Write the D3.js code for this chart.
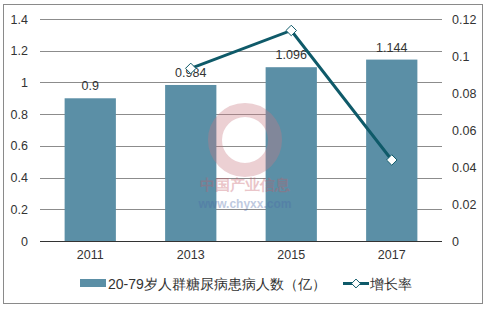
<!DOCTYPE html>
<html><head><meta charset="utf-8">
<script src="https://cdn.jsdelivr.net/npm/d3@7/dist/d3.min.js"></script>
<style>body{margin:0;background:#fff;}text{font-family:"Liberation Sans",Arial,sans-serif;}</style>
</head><body><svg id="c" width="487" height="309"></svg>
<script>
const categories = ["2011","2013","2015","2017"];
const patients = [0.9, 0.984, 1.096, 1.144];
const growth = [null, 0.0933, 0.1138, 0.0438];
const leftTicks = [0,0.2,0.4,0.6,0.8,1,1.2,1.4];
const rightTicks = [0,0.02,0.04,0.06,0.08,0.1,0.12];
const barName = "20-79岁人群糖尿病患病人数（亿）";
const lineName = "增长率";

const svg = d3.select("#c");
const L=40, R=442, T=19, B=241;
const x = d3.scaleBand().domain(categories).range([L,R]).paddingInner(0.49).paddingOuter(0.245);
const y = d3.scaleLinear().domain([0,1.4]).range([B,T]);
const y2 = d3.scaleLinear().domain([0,0.12]).range([B,T]);
const barColor="#5b8fa6", lineColor="#0f5a69";

svg.append("rect").attr("x",3.5).attr("y",4.5).attr("width",479).attr("height",299)
  .attr("fill","none").attr("stroke","#8a8a8a");

svg.append("g").selectAll("line").data(leftTicks.slice(1)).join("line")
  .attr("x1",L).attr("x2",R).attr("y1",d=>Math.round(y(d))+0.5).attr("y2",d=>Math.round(y(d))+0.5)
  .attr("stroke","#8c8c8c");

const gl = svg.append("g").attr("transform",`translate(${L},0)`)
  .call(d3.axisLeft(y).tickValues(leftTicks).tickSize(0).tickPadding(12).tickFormat(d=>String(+d.toFixed(2))));
gl.select(".domain").remove();
gl.selectAll("text").attr("font-size",12.5).attr("fill","#333");

const gr = svg.append("g").attr("transform",`translate(${R},0)`)
  .call(d3.axisRight(y2).tickValues(rightTicks).tickSize(0).tickPadding(10).tickFormat(d=>String(+d.toFixed(2))));
gr.select(".domain").remove();
gr.selectAll("text").attr("font-size",12.5).attr("fill","#333");

svg.append("g").selectAll("rect").data(categories).join("rect")
  .attr("x",d=>x(d)).attr("width",x.bandwidth())
  .attr("y",(d,i)=>y(patients[i])).attr("height",(d,i)=>B-y(patients[i]))
  .attr("fill",barColor);

const wm = svg.append("g").attr("opacity",0.35);
wm.append("circle").attr("cx",245).attr("cy",140).attr("r",30).attr("fill","none").attr("stroke","#c97a84").attr("stroke-width",14);
wm.append("text").attr("x",245).attr("y",190).attr("text-anchor","middle").attr("font-size",15).attr("font-weight","bold")
  .attr("fill","#c45b66").text("中国产业信息");
wm.append("text").attr("x",245).attr("y",208).attr("text-anchor","middle").attr("font-size",12).attr("font-weight","bold")
  .attr("fill","#4a6aa8").text("www.chyxx.com");

svg.append("line").attr("x1",L).attr("x2",R).attr("y1",B+0.5).attr("y2",B+0.5).attr("stroke","#333");
const gx = svg.append("g").attr("transform",`translate(0,${B})`).call(d3.axisBottom(x).tickSize(0).tickPadding(9));
gx.select(".domain").remove();
gx.selectAll("text").attr("font-size",12.5).attr("fill","#333");

svg.append("g").selectAll("text").data(categories).join("text")
  .attr("x",d=>x(d)+x.bandwidth()/2).attr("y",(d,i)=>y(patients[i])-8)
  .attr("text-anchor","middle").attr("font-size",12.5).attr("fill","#333")
  .text((d,i)=>patients[i]);

const pts = categories.map((c,i)=>({c,v:growth[i]})).filter(d=>d.v!==null);
svg.append("path").datum(pts)
  .attr("d",d3.line().x(d=>x(d.c)+x.bandwidth()/2).y(d=>y2(d.v)))
  .attr("fill","none").attr("stroke",lineColor).attr("stroke-width",3);
const diamond = d3.symbol().type(d3.symbolDiamond2).size(70);
svg.append("g").selectAll("path").data(pts).join("path")
  .attr("transform",d=>`translate(${x(d.c)+x.bandwidth()/2},${y2(d.v)})`)
  .attr("d",diamond).attr("fill","#fff").attr("stroke",lineColor).attr("stroke-width",1);

const lg = svg.append("g");
lg.append("rect").attr("x",80).attr("y",279).attr("width",26).attr("height",8).attr("fill",barColor);
lg.append("text").attr("x",108).attr("y",288.5).attr("font-size",14).attr("fill","#333")
  .attr("font-family","'Noto Sans CJK SC',sans-serif").text(barName);
lg.append("line").attr("x1",343).attr("x2",369).attr("y1",283.5).attr("y2",283.5).attr("stroke",lineColor).attr("stroke-width",3);
lg.append("path").attr("transform","translate(356,283.5)").attr("d",d3.symbol().type(d3.symbolDiamond2).size(50))
  .attr("fill","#fff").attr("stroke",lineColor);
lg.append("text").attr("x",370).attr("y",288.5).attr("font-size",14).attr("fill","#333")
  .attr("font-family","'Noto Sans CJK SC',sans-serif").text(lineName);
</script></body></html>
